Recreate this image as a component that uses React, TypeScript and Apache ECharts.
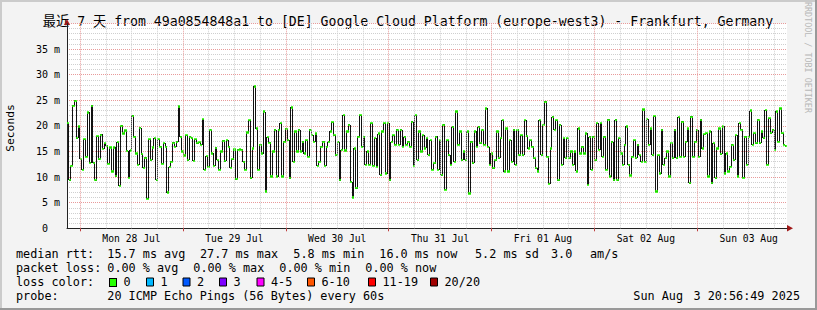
import React, { useEffect, useRef } from 'react';
import * as echarts from 'echarts';

// ---------- data ----------
const chartTitle = '最近 7 天 from 49a0854848a1 to [DE] Google Cloud Platform (europe-west3) - Frankfurt, Germany';
const dayLabels = ['Mon 28 Jul', 'Tue 29 Jul', 'Wed 30 Jul', 'Thu 31 Jul', 'Fri 01 Aug', 'Sat 02 Aug', 'Sun 03 Aug'];
const dayNoonHours = [12, 36, 60, 84, 108, 132, 156]; // hours after Mon 28 Jul 00:00
const midnightHours = [0, 24, 48, 72, 96, 120, 144];
const sixHourGrid = [0, 6, 12, 18, 24, 30, 36, 42, 48, 54, 60, 66, 72, 78, 84, 90, 96, 102, 108, 114, 120, 126, 132, 138, 144, 150, 156, 162];
const startHour = -3.0531; // Sun Jul 27 20:56:49
const endHour = 164.9469; // Sun Aug 3 20:56:49
const yMaxMs = 40;
const yStepMs = 5;

// median rtt (ms), in time order
const rttA = [20.5, 9.4, 12.2, 23.9, 24.9, 17.6, 19.9, 13.5, 11.4, 17.4, 14.0, 22.6, 12.8, 23.9, 12.8, 9.4, 18.0, 13.5, 18.3, 15.5, 16.6, 16.1, 12.6, 15.8, 11.1, 15.8, 10.2, 16.8, 8.3, 20.0, 18.5, 19.1, 15.1, 9.9, 15.2, 22.0, 17.9, 14.6, 12.4, 19.6, 14.5, 11.8, 13.8, 5.8, 17.4];
const rttB = [13.3, 15.8, 17.6, 9.4, 17.4, 15.9, 12.6, 16.6, 15.9, 7.0, 12.0, 13.0, 16.7, 15.9, 16.9, 23.8, 17.9, 15.0, 14.2, 18.2, 13.3, 17.9, 17.6, 13.2, 17.4, 16.6, 16.8, 16.3, 21.3, 11.4, 14.1, 12.0, 19.2, 14.6, 12.2, 15.7, 13.3, 11.4, 15.0, 17.1, 13.1, 17.2, 15.9, 11.8, 13.5, 15.4, 9.6, 15.3, 15.4];
const rttC = [15.3, 13.0, 11.4, 18.7, 21.1, 9.8, 15.6, 27.7, 19.5, 11.4, 16.3, 14.6, 22.8, 7.2, 17.8, 16.7, 10.1, 15.0, 19.2, 10.1, 19.2, 20.5, 10.1, 16.9, 19.4, 17.2, 9.8, 23.6, 13.0, 18.9, 15.0, 19.2, 15.0, 16.9, 14.6, 17.2, 14.0, 19.2, 18.2, 16.9, 18.5, 12.2, 13.0, 15.9, 16.9, 12.2, 15.9, 16.9, 18.9];
const rttD = [20.7, 18.2, 14.3, 16.9, 9.4, 15.3, 22.1, 15.2, 18.9, 20.2, 9.1, 6.0, 15.6, 7.8, 17.9, 22.1, 15.9, 17.9, 12.4, 15.0, 12.4, 20.5, 12.2, 17.6, 12.0, 18.5, 10.4, 18.9, 20.5, 10.7, 20.5, 9.4, 16.9, 18.2, 16.3, 19.2, 16.3, 19.2, 15.9, 17.9, 16.3, 16.9, 15.9, 20.8, 12.2, 22.1, 13.3, 18.9, 15.0];
const rttE = [18.2, 15.6, 17.6, 14.3, 17.2, 11.4, 12.7, 17.9, 11.4, 17.2, 10.4, 20.2, 7.5, 17.2, 14.3, 12.4, 19.8, 13.0, 22.8, 16.3, 18.9, 13.3, 15.0, 13.3, 18.9, 6.8, 16.9, 12.7, 18.9, 15.9, 19.8, 16.6, 19.2, 16.3, 23.4, 15.9, 12.4, 14.6, 11.7, 13.3, 18.9, 13.7, 17.6, 21.1, 11.1, 19.5, 11.1, 17.2, 13.0];
const rttF = [19.2, 12.4, 19.2, 14.3, 18.2, 14.3, 21.1, 18.0, 15.6, 17.2, 15.9, 13.7, 11.7, 11.1, 21.1, 14.3, 20.2, 24.7, 14.0, 8.7, 15.6, 21.8, 19.2, 21.1, 9.4, 20.2, 12.4, 17.6, 13.7, 17.6, 13.7, 15.0, 12.4, 15.0, 11.1, 19.5, 14.6, 15.9, 14.6, 18.5, 8.5, 17.9, 11.4, 17.9, 13.3, 20.5, 15.3, 20.5, 14.0];
const rttG = [17.9, 11.4, 21.2, 10.1, 16.9, 9.4, 21.2, 9.4, 17.6, 14.6, 12.4, 16.3, 19.9, 12.4, 10.3, 14.0, 17.2, 13.7, 16.3, 14.3, 13.0, 23.2, 13.0, 21.3, 16.3, 19.5, 14.3, 21.9, 7.2, 14.3, 10.7, 19.2, 12.4, 13.7, 15.0, 10.1, 16.6, 13.7, 19.2, 13.7, 21.7, 14.0, 20.8, 14.0, 16.9, 19.5, 8.8, 21.8, 14.0, 16.9, 19.2, 14.0, 21.2, 15.6, 18.4, 18.6, 10.1, 18.9, 8.8, 16.6, 9.8, 15.6, 19.5, 14.5, 19.9, 10.7, 14.6, 11.1, 12.0, 16.3, 13.3, 18.2, 10.1, 20.5, 19.2, 9.9, 17.9, 12.4, 17.9, 23.0, 16.3, 18.6, 16.6, 21.2, 16.6, 18.9, 17.6, 23.1, 12.4, 21.5, 18.6, 19.2, 15.3, 22.8, 16.9, 23.4, 18.6, 16.3, 16.0];

const rttStatsLabel = 'median rtt:';
const rttStats = ['15.7 ms avg', '27.7 ms max', '5.8 ms min', '16.0 ms now', '5.2 ms sd', '3.0', 'am/s'];
const lossStatsLabel = 'packet loss:';
const lossStats = ['0.00 % avg', '0.00 % max', '0.00 % min', '0.00 % now'];
const lossColorLabel = 'loss color:';
const lossLabels = ['0', '1', '2', '3', '4-5', '6-10', '11-19', '20/20'];
const lossColors = ['#26ff00', '#00b8ff', '#0059ff', '#7e00ff', '#ff00ff', '#ff5500', '#ff0000', '#a00000'];
const probeLabel = 'probe:';
const probeText = '20 ICMP Echo Pings (56 Bytes) every 60s';
const stampDay = 'Sun Aug';
const stampRest = '3 20:56:49 2025';
const watermark = 'RRDTOOL / TOBI OETIKER';

// ---------- layout ----------
const W = 817;
const H = 310;
const GL = 67;
const GT = 23.5;
const GW = 720;
const GH = 204.8;
const mono = '"DejaVu Sans Mono", monospace';
const LINE_COLOR = '#111111';
const GREEN = '#26ff00';

const medianRtt = [...rttA, ...rttB, ...rttC, ...rttD, ...rttE, ...rttF, ...rttG];

function buildOption() {
  const dt = (endHour - startHour) / medianRtt.length;
  const pts = medianRtt.map((v, i) => [startHour + (i + 0.5) * dt, v]);

  const txt = (text: string, x: number, y: number, size: number, extra: any = {}) => ({
    type: 'text',
    x,
    y,
    silent: true,
    style: {
      text,
      font: `${size}px ${mono}`,
      fill: '#000',
      textAlign: 'left',
      textVerticalAlign: 'middle',
      ...extra,
    },
  });

  const rowY = [254.3, 268.3, 282.3, 296];
  const rttX = [107.3, 200, 293.3, 379.3, 475, 551, 590];
  const lossX = [107.3, 193.3, 279.3, 365.3];
  const boxX = [109.5, 146.5, 183, 219.5, 257, 307.5, 368.5, 430.5];
  const fs = 11.8;

  const graphic: any[] = [
    { type: 'rect', shape: { x: 0, y: 0, width: W, height: 2 }, style: { fill: '#cbcbcb' }, silent: true },
    { type: 'rect', shape: { x: 0, y: 0, width: 2, height: H }, style: { fill: '#cbcbcb' }, silent: true },
    { type: 'rect', shape: { x: W - 2, y: 0, width: 2, height: H }, style: { fill: '#999999' }, silent: true },
    { type: 'rect', shape: { x: 0, y: H - 2, width: W, height: 2 }, style: { fill: '#999999' }, silent: true },
    txt(chartTitle, 408, 21, 13.2, { textAlign: 'center', font: `13.2px ${mono}, "Noto Sans CJK SC"` }),
    {
      type: 'text', x: 808, y: 57.5, rotation: -Math.PI / 2, silent: true,
      style: { text: watermark, font: `8.4px ${mono}`, fill: '#b8b8b8', textAlign: 'center', textVerticalAlign: 'middle' },
    },
    {
      type: 'text', x: 10.5, y: 128, rotation: Math.PI / 2, silent: true,
      style: { text: 'Seconds', font: `11.3px ${mono}`, fill: '#000', textAlign: 'center', textVerticalAlign: 'middle' },
    },
    { type: 'polygon', shape: { points: [[GL - 3, GT + 1.5], [GL + 3, GT + 1.5], [GL, GT - 4.5]] }, style: { fill: '#a01818' }, silent: true },
    { type: 'polygon', shape: { points: [[GL + GW, GT + GH - 3.3], [GL + GW, GT + GH + 3.3], [GL + GW + 6, GT + GH]] }, style: { fill: '#a01818' }, silent: true },
    txt(rttStatsLabel, 16, rowY[0], fs),
    ...rttStats.map((s, i) => txt(s, rttX[i], rowY[0], fs)),
    txt(lossStatsLabel, 16, rowY[1], fs),
    ...lossStats.map((s, i) => txt(s, lossX[i], rowY[1], fs)),
    txt(lossColorLabel, 16, rowY[2], fs),
    ...lossLabels.map((s, i) => txt(s, boxX[i] + 14, rowY[2], fs)),
    ...lossColors.map((c, i) => ({
      type: 'rect', silent: true,
      shape: { x: boxX[i], y: 278, width: 7, height: 8 },
      style: { fill: c, stroke: '#000', lineWidth: 1 },
    })),
    txt(probeLabel, 16, rowY[3], fs),
    txt(probeText, 107.3, rowY[3], fs),
    txt(stampDay, 633.3, rowY[3], fs),
    txt(stampRest, 800, rowY[3], fs, { textAlign: 'right' }),
  ];

  const gridColor = '#cfcfcf';
  const majorColor = '#e89a9a';

  return {
    animation: false,
    backgroundColor: '#f3f3f3',
    grid: { left: GL, top: GT, width: GW, height: GH, show: true, backgroundColor: '#ffffff', borderWidth: 0 },
    xAxis: {
      type: 'value',
      min: startHour,
      max: endHour,
      axisLine: { show: true, onZero: false, lineStyle: { color: '#222', width: 1 } },
      axisTick: { show: true, customValues: midnightHours, length: 3, lineStyle: { color: '#c04040' } },
      axisLabel: {
        show: true,
        customValues: dayNoonHours,
        formatter: (v: number) => dayLabels[Math.round((v - dayNoonHours[0]) / 24)] ?? '',
        fontFamily: mono,
        fontSize: 9.7,
        color: '#000',
        margin: 5,
        hideOverlap: false,
      },
      splitLine: { show: false },
    },
    yAxis: {
      type: 'value',
      min: 0,
      max: yMaxMs,
      interval: yStepMs,
      axisLine: { show: true, onZero: false, lineStyle: { color: '#222', width: 1 } },
      axisTick: { show: false },
      axisLabel: {
        formatter: (v: number) => (v === 0 ? '{z|0}' : v >= yMaxMs ? '' : `${v} m`),
        fontFamily: mono,
        fontSize: 10,
        color: '#000',
        margin: 7,
        rich: { z: { padding: [0, 12, 0, 0], fontFamily: mono, fontSize: 10, color: '#000' } },
      },
      splitLine: { show: true, lineStyle: { color: majorColor, type: [1, 1], width: 1 } },
      minorTick: { show: false, splitNumber: 5 },
      minorSplitLine: { show: true, lineStyle: { color: gridColor, type: [1, 1], width: 1 } },
    },
    series: [
      {
        type: 'line',
        data: [],
        z: 1,
        silent: true,
        markLine: {
          silent: true,
          symbol: ['none', 'none'],
          label: { show: false },
          animation: false,
          data: sixHourGrid.map((h) => ({
            xAxis: h,
            lineStyle: { color: midnightHours.includes(h) ? majorColor : gridColor, type: [1, 1], width: 1 },
          })),
        },
      },
      {
        type: 'line',
        data: pts,
        step: 'middle',
        symbol: 'none',
        silent: true,
        z: 3,
        lineStyle: { color: LINE_COLOR, width: 1 },
      },
      {
        type: 'scatter',
        data: pts,
        symbol: 'rect',
        symbolSize: [2.4, 2.2],
        silent: true,
        z: 4,
        itemStyle: { color: GREEN },
      },
    ],
    graphic,
  };
}

export default function App() {
  const ref = useRef<HTMLDivElement>(null);
  useEffect(() => {
    if (!ref.current) return;
    const chart = echarts.init(ref.current, null, { renderer: 'svg' });
    chart.setOption(buildOption() as any);
    // render the step line and its points crisply, like rrdtool
    const paths = ref.current.querySelectorAll('path');
    paths.forEach((p) => {
      const s = (p.getAttribute('stroke') || '').toLowerCase().replace(/\s/g, '');
      const f = (p.getAttribute('fill') || '').toLowerCase().replace(/\s/g, '');
      if (s === LINE_COLOR || s === 'rgb(17,17,17)' || f === GREEN || f === 'rgb(38,255,0)') {
        p.setAttribute('shape-rendering', 'crispEdges');
      }
    });
    return () => chart.dispose();
  }, []);
  return <div ref={ref} style={{ position: 'fixed', left: 0, top: 0, width: W, height: H }} />;
}
